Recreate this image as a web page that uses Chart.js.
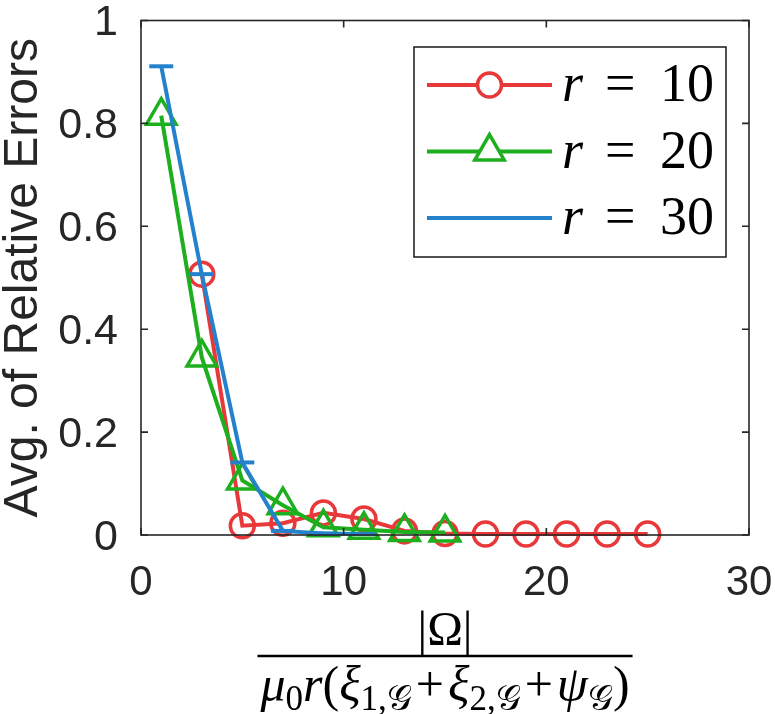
<!DOCTYPE html>
<html lang="en">
<head>
    <meta charset="UTF-8">
    <title>Avg. of Relative Errors</title>
    <script src="https://cdn.jsdelivr.net/npm/chart.js"></script>
    <style>
        body { margin: 0; background: #ffffff; }
        #wrap { width: 775px; height: 714px; position: relative; }
    </style>
</head>
<body>
    <div id="wrap"><canvas id="errChart"></canvas></div>

    <script>
        // values
        const xSamples = [1, 3, 5, 7, 9, 11, 13, 15, 17, 19, 21, 23, 25];
        const errR10 = [null, 0.507, 0.018, 0.023, 0.043, 0.031, 0.008, 0.003, 0.002, 0.002, 0.002, 0.002, 0.002];
        const errR20 = [0.815, 0.345, 0.106, 0.058, 0.015, 0.010, 0.006, 0.005];
        const errR30 = [0.911, 0.507, 0.141, 0.008, 0.003, 0.002];
        const seriesLabels = ["r = 10", "r = 20", "r = 30"];
        const xTicks = [0, 10, 20, 30];
        const yTicks = ["0", "0.2", "0.4", "0.6", "0.8", "1"];

        const axisInk = "#262626";
        const red = "#E8383A", green = "#1DAF1D", blue = "#2482CC";

        function pairs(ys) {
            let out = [];
            ys.forEach((v, i) => { if (v !== null) out.push({ x: xSamples[i], y: v }); });
            return out;
        }

        // MATLAB-style box with inward ticks
        const boxPlugin = {
            id: "box",
            afterDatasetsDraw(chart) {
                const { ctx, chartArea: a, scales } = chart;
                ctx.save();
                ctx.strokeStyle = axisInk;
                ctx.lineWidth = 1.6;
                ctx.strokeRect(a.left, a.top, a.right - a.left, a.bottom - a.top);
                ctx.beginPath();
                scales.x.ticks.forEach(t => {
                    let px = scales.x.getPixelForValue(t.value);
                    ctx.moveTo(px, a.bottom); ctx.lineTo(px, a.bottom - 7);
                    ctx.moveTo(px, a.top); ctx.lineTo(px, a.top + 7);
                });
                scales.y.ticks.forEach(t => {
                    let py = scales.y.getPixelForValue(t.value);
                    ctx.moveTo(a.left, py); ctx.lineTo(a.left + 7, py);
                    ctx.moveTo(a.right, py); ctx.lineTo(a.right - 7, py);
                });
                ctx.stroke();
                ctx.restore();
            }
        };

        // legend box like the original
        const legendPlugin = {
            id: "boxLegend",
            afterDraw(chart) {
                const ctx = chart.ctx;
                const left = 414, top = 47, w = 312, h = 210;
                ctx.save();
                ctx.fillStyle = "#ffffff";
                ctx.fillRect(left, top, w, h);
                ctx.strokeStyle = axisInk;
                ctx.lineWidth = 1.6;
                ctx.strokeRect(left, top, w, h);
                chart.data.datasets.forEach((ds, i) => {
                    let cy = top + 38 + i * 66.5;
                    ctx.strokeStyle = ds.borderColor;
                    ctx.lineWidth = ds.borderWidth;
                    ctx.beginPath();
                    ctx.moveTo(left + 13, cy);
                    ctx.lineTo(left + 138, cy);
                    ctx.stroke();
                    ctx.fillStyle = "#ffffff";
                    ctx.lineWidth = ds.pointBorderWidth;
                    Chart.helpers.drawPoint(ctx, {
                        pointStyle: ds.pointStyle, radius: ds.pointRadius,
                        borderWidth: ds.pointBorderWidth, rotation: 0
                    }, left + 75.5, cy);
                    // label text: italic variable, upright rest
                    let parts = ds.label.split(" ");
                    let tx = left + 148, by = cy + 16;
                    ctx.fillStyle = "#000000";
                    ctx.textBaseline = "alphabetic";
                    ctx.textAlign = "left";
                    ctx.font = "italic 54px 'Liberation Serif', serif";
                    ctx.fillText(parts[0], tx, by);
                    ctx.font = "54px 'Liberation Serif', serif";
                    ctx.fillText(parts[1], tx + 43, by);
                    ctx.fillText(parts[2], tx + 98, by);
                });
                ctx.restore();
            }
        };

        // x-axis title drawn as a fraction
        const xTitleNum = "|Ω|";
        const xTitleDen = [
            ["μ", "i"], ["0", "s"], ["r", "i"], ["(", "n"], ["ξ", "i"], ["1,𝒢", "s"],
            ["+", "o"], ["ξ", "i"], ["2,𝒢", "s"], ["+", "o"], ["ψ", "i"], ["𝒢", "s"], [")", "n"]
        ];
        const fracPlugin = {
            id: "fracTitle",
            afterDraw(chart) {
                const ctx = chart.ctx;
                const a = chart.chartArea;
                const cx = (a.left + a.right) / 2;
                const fonts = {
                    i: "italic 50px 'Liberation Serif', serif",
                    n: "50px 'Liberation Serif', serif",
                    o: "50px 'Liberation Serif', serif",
                    s: "35px 'Liberation Serif', serif"
                };
                ctx.save();
                ctx.fillStyle = "#000000";
                ctx.textBaseline = "alphabetic";
                ctx.textAlign = "left";
                let total = 0;
                const widths = xTitleDen.map(p => {
                    ctx.font = fonts[p[1]];
                    let wd = ctx.measureText(p[0]).width + (p[1] === "o" ? 8 : 0);
                    total += wd;
                    return wd;
                });
                let x = cx - total / 2;
                const base = 701;
                xTitleDen.forEach((p, i) => {
                    ctx.font = fonts[p[1]];
                    let dy = p[1] === "s" ? 9 : 0;
                    let dx = p[1] === "o" ? 4 : 0;
                    ctx.fillText(p[0], x + dx, base + dy);
                    x += widths[i];
                });
                ctx.strokeStyle = "#000000";
                ctx.lineWidth = 2.5;
                ctx.beginPath();
                ctx.moveTo(cx - total / 2 - 3, 656);
                ctx.lineTo(cx + total / 2 + 3, 656);
                ctx.stroke();
                ctx.font = "48px 'Liberation Serif', serif";
                ctx.textAlign = "center";
                ctx.fillText(xTitleNum, cx, 645);
                ctx.restore();
            }
        };

        Chart.defaults.font.family = "'Liberation Sans', Arial, sans-serif";
        Chart.defaults.color = axisInk;

        const ctx = document.getElementById("errChart").getContext("2d");
        new Chart(ctx, {
            type: "line",
            data: {
                datasets: [
                    {
                        label: seriesLabels[0], data: pairs(errR10), order: 2,
                        borderColor: red, borderWidth: 4, pointStyle: "circle",
                        pointRadius: 12, pointBorderWidth: 3.5, pointBackgroundColor: "rgba(0,0,0,0)",
                        pointBorderColor: red, clip: false, tension: 0
                    },
                    {
                        label: seriesLabels[1], data: pairs(errR20), order: 1,
                        borderColor: green, borderWidth: 4, pointStyle: "triangle",
                        pointRadius: 17, pointBorderWidth: 3.5, pointBackgroundColor: "rgba(0,0,0,0)",
                        pointBorderColor: green, clip: false, tension: 0
                    },
                    {
                        label: seriesLabels[2], data: pairs(errR30), order: 0,
                        borderColor: blue, borderWidth: 4, pointStyle: "line",
                        pointRadius: 12, pointBorderWidth: 4, pointBackgroundColor: blue,
                        pointBorderColor: blue, clip: false, tension: 0
                    }
                ]
            },
            options: {
                responsive: true,
                maintainAspectRatio: false,
                animation: false,
                layout: { padding: { top: 18, right: 26, left: 0, bottom: 0 } },
                plugins: { legend: { display: false }, tooltip: { enabled: false } },
                scales: {
                    x: {
                        type: "linear", min: 0, max: 30,
                        afterBuildTicks: s => { s.ticks = xTicks.map(v => ({ value: v })); },
                        afterFit: s => {
                            s.height = 179;
                            s.paddingLeft = 0; s.paddingRight = 0;
                        },
                        grid: { display: false }, border: { display: false },
                        ticks: { font: { size: 42 }, padding: 15, maxRotation: 0 }
                    },
                    y: {
                        min: 0, max: 1,
                        afterBuildTicks: s => { s.ticks = yTicks.map(v => ({ value: parseFloat(v) })); },
                        afterFit: s => {
                            s.width = 141;
                            s.paddingTop = 0; s.paddingBottom = 0;
                        },
                        grid: { display: false }, border: { display: false },
                        ticks: {
                            font: { size: 43 }, padding: 15, labelOffset: 3,
                            callback: (v, i) => yTicks[i]
                        },
                        title: {
                            display: true, text: "Avg. of Relative Errors",
                            font: { size: 48, lineHeight: 1 }, padding: { top: 0, bottom: 0 }
                        }
                    }
                }
            },
            plugins: [boxPlugin, legendPlugin, fracPlugin]
        });
    </script>
</body>
</html>
